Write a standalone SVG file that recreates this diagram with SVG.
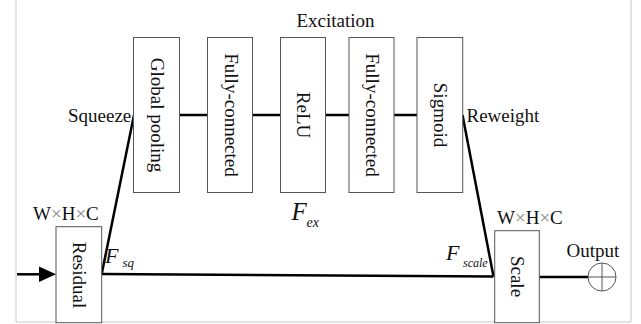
<svg xmlns="http://www.w3.org/2000/svg" width="641" height="324" viewBox="0 0 641 324">
<style>
text{font-family:"Liberation Serif","Times New Roman",serif;fill:#111;font-size:19px}
.box{fill:#fff;stroke:#555;stroke-width:1}
.vt{text-anchor:middle}
.conn{stroke:#000;stroke-width:2.5;fill:none}
.thin{stroke:#555;stroke-width:1;fill:none}
.it{font-style:italic}
.x{fill:#888}
.f25{font-size:25px}
.f22{font-size:22px}
.s14{font-size:14px}
.s13{font-size:13px}
.s12{font-size:12px}
</style>
<rect x="0" y="0" width="641" height="324" fill="#fff"/>
<g id="frame" fill="none" stroke="#c8c8c8" stroke-width="1">
<polyline points="16,0 16,322 631,322 631,0"/>
</g>
<g id="connectors">
<line class="conn" x1="17" y1="274.3" x2="41" y2="274.3"/>
<polygon points="39,266.5 56,274.3 39,282" fill="#000"/>
<line class="conn" x1="101.7" y1="274" x2="493.5" y2="276.5"/>
<line class="conn" x1="101.7" y1="274" x2="134" y2="115"/>
<line class="conn" x1="462.5" y1="115" x2="493.5" y2="276.5"/>
<line class="conn" x1="179.5" y1="115" x2="207.5" y2="115"/>
<line class="conn" x1="252.5" y1="115" x2="280.5" y2="115"/>
<line class="conn" x1="325.5" y1="115" x2="349" y2="115"/>
<line class="conn" x1="394" y1="115" x2="417" y2="115"/>
<line class="conn" x1="539.3" y1="277" x2="588" y2="277"/>
</g>
<g id="residual">
<rect class="box" x="56" y="226.7" width="45.7" height="96"/>
<text class="vt" transform="translate(78.8,275) rotate(90)" y="6">Residual</text>
<text x="33" y="220">W<tspan class="x">×</tspan>H<tspan class="x">×</tspan>C</text>
</g>
<g id="global-pooling">
<rect class="box" x="133.5" y="37.5" width="46" height="155"/>
<text class="vt" transform="translate(156.5,115) rotate(90)" y="5.5">Global pooling</text>
</g>
<g id="fc1">
<rect class="box" x="207.5" y="37.5" width="45" height="155"/>
<text class="vt" transform="translate(230,115) rotate(90)" y="5.5">Fully-connected</text>
</g>
<g id="relu">
<rect class="box" x="280.5" y="37.5" width="45" height="155"/>
<text class="vt" transform="translate(303,115) rotate(90)" y="6">ReLU</text>
</g>
<g id="fc2">
<rect class="box" x="349" y="37.5" width="45" height="155"/>
<text class="vt" transform="translate(371.5,115) rotate(90)" y="5.5">Fully-connected</text>
</g>
<g id="sigmoid">
<rect class="box" x="417" y="37.5" width="45.7" height="155"/>
<text class="vt" transform="translate(439.8,115) rotate(90)" y="5.5">Sigmoid</text>
</g>
<g id="scale">
<rect class="box" x="494.7" y="230.7" width="44.6" height="92"/>
<text class="vt" transform="translate(517,276.5) rotate(90)" y="6">Scale</text>
<text x="497" y="224">W<tspan class="x">×</tspan>H<tspan class="x">×</tspan>C</text>
</g>
<g id="output">
<circle cx="602" cy="277" r="14" fill="#fff" stroke="#555" stroke-width="1"/>
<line class="thin" x1="588" y1="277" x2="616" y2="277"/>
<line class="thin" x1="602" y1="263" x2="602" y2="291"/>
<text x="566.5" y="256.5">Output</text>
</g>
<g id="labels">
<text x="296.5" y="26.7">Excitation</text>
<text x="68" y="121.7">Squeeze</text>
<text x="466.5" y="121.7">Reweight</text>
<text class="it f25" x="291.5" y="220">F</text>
<text class="it s14" x="306.5" y="226.7">ex</text>
<text class="it f22" x="105" y="262.7">F</text>
<text class="it s13" x="122.5" y="266.7">sq</text>
<text class="it f22" x="446" y="260">F</text>
<text class="it s12" x="463" y="266.7">scale</text>
</g>
</svg>
